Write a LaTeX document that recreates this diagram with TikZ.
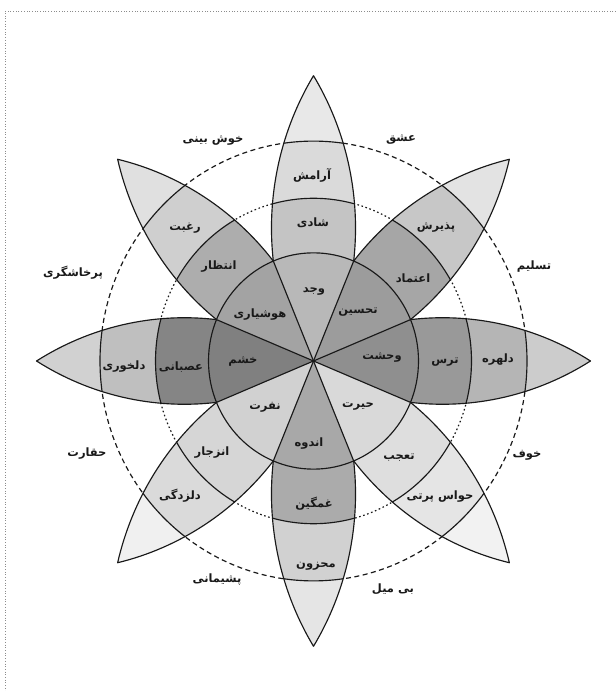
\documentclass[tikz,border=0pt]{standalone}
\usepackage{fontspec}
\newfontfamily\fa[Script=Arabic]{DejaVu Sans}
\TeXXeTstate=1
\definecolor{ink}{gray}{0.1}
\definecolor{framec}{gray}{0.55}
\tikzset{
 lab/.style={font=\fa\bfseries\fontsize{11.5}{13}\selectfont, text=ink, inner sep=0pt},
 pline/.style={draw=ink, line width=1.15pt, line join=round},
}
\newcommand\fillpetal[5]{%
 \begin{scope}[rotate=#1]
  \fill[fill=#2] (0,0) -- (67.5:105) arc[start angle=67.5,end angle=112.5,radius=105] -- cycle;
  \fill[fill=#3] (67.5:105) arc[start angle=67.5,end angle=112.5,radius=105]
     arc[start angle=186.55,end angle=175.21,radius=281.3]
     arc[start angle=105.06,end angle=74.94,radius=158]
     arc[start angle=4.79,end angle=-6.55,radius=281.3] -- cycle;
  \fill[fill=#4] (74.94:158) arc[start angle=74.94,end angle=105.06,radius=158]
     arc[start angle=175.21,end angle=162.99,radius=281.3]
     arc[start angle=98.0,end angle=82.0,radius=213.5]
     arc[start angle=17.01,end angle=4.79,radius=281.3] -- cycle;
  \fill[fill=#5] (82.0:213.5) arc[start angle=82.0,end angle=98.0,radius=213.5]
     arc[start angle=162.99,end angle=148.28,radius=281.3]
     arc[start angle=31.72,end angle=17.01,radius=281.3] -- cycle;
 \end{scope}}
\newcommand\linepetal[1]{%
 \begin{scope}[rotate=#1]
  \draw[pline] (0,0) -- (67.5:105);
  \draw[pline] (67.5:105) arc[start angle=-6.55,end angle=31.72,radius=281.3]
     arc[start angle=148.28,end angle=186.55,radius=281.3];
  \draw[pline] (74.94:158) arc[start angle=74.94,end angle=105.06,radius=158];
  \draw[pline] (82:213.5) arc[start angle=82,end angle=98,radius=213.5];
 \end{scope}}
\begin{document}
\begin{tikzpicture}[x=1pt,y=1pt]
\useasboundingbox (0,0) rectangle (616,691);
\draw[framec, line width=0.9pt, dash pattern=on 0.9pt off 1.8pt] (616,680) -- (5,680) -- (5,0);
\begin{scope}[shift={(313.5,330)}, yscale=1.03]
 \draw[ink, line width=1.2pt, dash pattern=on 1.6pt off 2.6pt] (0,0) circle[radius=158];
 \draw[ink, line width=1.2pt, dash pattern=on 5pt off 3.5pt] (0,0) circle[radius=213.5];
 \fillpetal{0}{black!28}{black!23}{black!14.5}{black!9}
 \fillpetal{-45}{black!39}{black!35}{black!22}{black!11}
 \fillpetal{-90}{black!44}{black!40}{black!29}{black!20}
 \fillpetal{-135}{black!15}{black!13}{black!10}{black!5}
 \fillpetal{180}{black!34}{black!33}{black!18}{black!10}
 \fillpetal{135}{black!18}{black!16}{black!14.5}{black!6}
 \fillpetal{90}{black!50}{black!48}{black!25}{black!18}
 \fillpetal{45}{black!36}{black!32}{black!19}{black!12}
 \draw[pline] (0,0) circle[radius=105];
 \linepetal{0}\linepetal{-45}\linepetal{-90}\linepetal{-135}
 \linepetal{180}\linepetal{135}\linepetal{90}\linepetal{45}
\end{scope}
% dyads
\node[lab] (d1) at (213,550) {\beginR خوش بینی\endR};
\node[lab] (d2) at (401,551) {\beginR عشق\endR};
\node[lab] (d3) at (73,418) {\beginR پرخاشگری\endR};
\node[lab] (d4) at (534,424) {\beginR تسلیم\endR};
\node[lab] (d5) at (87,237) {\beginR حقارت\endR};
\node[lab] (d6) at (527,236) {\beginR خوف\endR};
\node[lab] (d7) at (217,111) {\beginR پشیمانی\endR};
\node[lab] (d8) at (393,102) {\beginR بی میل\endR};
% top
\node[lab] (a1) at (312,516) {\beginR آرامش\endR};
\node[lab] (a2) at (313,468) {\beginR شادی\endR};
\node[lab] (a3) at (314,399) {\beginR وجد\endR};
% upper right
\node[lab] (b1) at (436,463) {\beginR پذیرش\endR};
\node[lab] (b2) at (413,413) {\beginR اعتماد\endR};
\node[lab] (b3) at (358,379) {\beginR تحسین\endR};
% right
\node[lab] (c1) at (498,331) {\beginR دلهره\endR};
\node[lab] (c2) at (445,329) {\beginR ترس\endR};
\node[lab] (c3) at (382,333) {\beginR وحشت\endR};
% lower right
\node[lab] (e1) at (440,194) {\beginR حواس پرتی\endR};
\node[lab] (e2) at (399,233) {\beginR تعجب\endR};
\node[lab] (e3) at (358,284) {\beginR حیرت\endR};
% bottom
\node[lab] (f1) at (316,125) {\beginR محزون\endR};
\node[lab] (f2) at (314,187) {\beginR غمگین\endR};
\node[lab] (f3) at (309,247) {\beginR اندوه\endR};
% lower left
\node[lab] (g1) at (180,195) {\beginR دلزدگی\endR};
\node[lab] (g2) at (212,238) {\beginR انزجار\endR};
\node[lab] (g3) at (265,284) {\beginR نفرت\endR};
% left
\node[lab] (h1) at (124,324) {\beginR دلخوری\endR};
\node[lab] (h2) at (181,324) {\beginR عصبانی\endR};
\node[lab] (h3) at (243,329) {\beginR خشم\endR};
% upper left
\node[lab] (i1) at (185,463) {\beginR رغبت\endR};
\node[lab] (i2) at (219,424) {\beginR انتظار\endR};
\node[lab] (i3) at (260,376) {\beginR هوشیاری\endR};
\end{tikzpicture}
\end{document}
